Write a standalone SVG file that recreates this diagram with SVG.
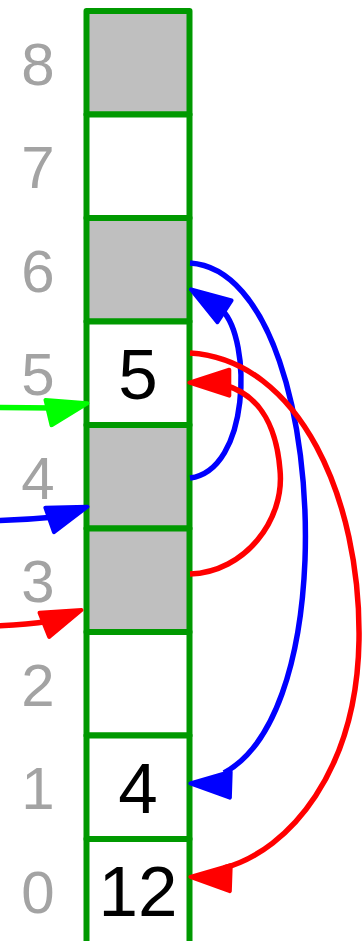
<svg xmlns="http://www.w3.org/2000/svg" xmlns:xlink="http://www.w3.org/1999/xlink" width="364" height="941" viewBox="0 0 364 941">
<style>
.cell{stroke:#009900;stroke-width:6;stroke-linejoin:round;fill:#ffffff}
.full{fill:#bfbfbf}
.idx{font-family:"Liberation Sans","DejaVu Sans",sans-serif;font-size:60px;fill:#a3a3a3;text-anchor:middle}
.val{font-family:"Liberation Sans","DejaVu Sans",sans-serif;font-size:71px;fill:#000000;text-anchor:middle}
.ln{fill:none;stroke-width:5.5;stroke-linecap:butt}
.ah{stroke-width:4;stroke-linejoin:round}
.blue{stroke:#0000ff;fill:#0000ff}
.red{stroke:#ff0000;fill:#ff0000}
.green{stroke:#00ff00;fill:#00ff00}
.ln.blue,.ln.red,.ln.green{fill:none}
</style>
<defs>
<path id="ah" d="M0,0 L-40,-13 L-40,13 Z"/>
</defs>
<g id="labels">
<text class="idx" x="38" y="84.75">8</text>
<text class="idx" x="38" y="188.25">7</text>
<text class="idx" x="38" y="291.75">6</text>
<text class="idx" x="38" y="395.25">5</text>
<text class="idx" x="38" y="498.75">4</text>
<text class="idx" x="38" y="602.25">3</text>
<text class="idx" x="38" y="705.75">2</text>
<text class="idx" x="38" y="809.25">1</text>
<text class="idx" x="38" y="912.75">0</text>
</g>
<g id="cell8"><rect class="cell full" x="86.5" y="11" width="103" height="103.5"/></g>
<g id="cell7"><rect class="cell" x="86.5" y="114.5" width="103" height="103.5"/></g>
<g id="cell6"><rect class="cell full" x="86.5" y="218" width="103" height="103.5"/></g>
<g id="cell5"><rect class="cell" x="86.5" y="321.5" width="103" height="103.5"/><text class="val" x="138" y="398.75">5</text></g>
<g id="cell4"><rect class="cell full" x="86.5" y="425" width="103" height="103.5"/></g>
<g id="cell3"><rect class="cell full" x="86.5" y="528.5" width="103" height="103.5"/></g>
<g id="cell2"><rect class="cell" x="86.5" y="632" width="103" height="103.5"/></g>
<g id="cell1"><rect class="cell" x="86.5" y="735.5" width="103" height="103.5"/><text class="val" x="138" y="812.75">4</text></g>
<g id="cell0"><rect class="cell" x="86.5" y="839" width="103" height="110"/><text class="val" x="138" y="916.25">12</text></g>
<g id="connectors">
<path class="ln green" d="M-5,407.5 Q25,407.5 55,408"/>
<use xlink:href="#ah" class="ah green" transform="translate(87.4,403.2) rotate(-13.5)"/>
<path class="ln blue" d="M-5,520.5 Q25,520 55,517"/>
<use xlink:href="#ah" class="ah blue" transform="translate(87.4,506.7) rotate(-19.3)"/>
<path class="ln red" d="M-5,626 Q25,625 50,621"/>
<use xlink:href="#ah" class="ah red" transform="translate(81.5,610) rotate(-21.7)"/>
<path class="ln blue" d="M190,478 C250,470 252,340 222,310"/>
<use xlink:href="#ah" class="ah blue" transform="translate(191,289.4) rotate(-146.9)"/>
<path class="ln blue" d="M190,263 C270,268 310,420 305,560 C301,660 275,745 224,773"/>
<use xlink:href="#ah" class="ah blue" transform="translate(190.3,783.4) rotate(181.8)"/>
<path class="ln red" d="M190,574 C245,572 285,520 280,470 C276,420 255,393 224,385"/>
<use xlink:href="#ah" class="ah red" transform="translate(189.3,382.7) rotate(180)"/>
<path class="ln red" d="M190,353 C300,360 361,500 359,640 C357,770 290,850 224,868"/>
<use xlink:href="#ah" class="ah red" transform="translate(190.3,876.8) rotate(182)"/>
</g>
</svg>
